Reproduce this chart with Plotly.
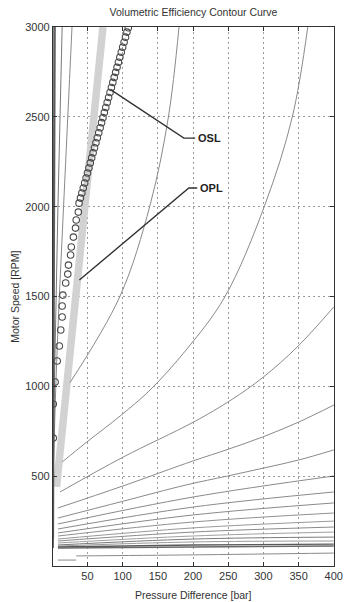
import plotly.graph_objects as go

# ---------------- data ----------------
TITLE = "Volumetric Efficiency Contour Curve"
X_TITLE = "Pressure Difference [bar]"
Y_TITLE = "Motor Speed [RPM]"
X_TICKS = [50, 100, 150, 200, 250, 300, 350, 400]
Y_TICKS = [500, 1000, 1500, 2000, 2500, 3000]

# steep contour curves (pressure [bar], speed [rpm])
C0_P = [25, 96, 139, 165, 180]
C0_N = [1020, 1500, 2010, 2500, 3000]
C1_P = [14, 49, 98, 139, 190, 245, 302, 341, 363]
C1_N = [579, 690, 840, 980, 1202, 1497, 2009, 2499, 3000]
C2_P = [11, 100, 201, 254, 300, 348, 400]
C2_N = [412, 605, 802, 924, 1052, 1219, 1442]
C3_P = [8, 100, 200, 250, 300, 350, 400]
C3_N = [323, 445, 585, 650, 720, 801, 896]
C4_P = [8, 100, 190, 249, 300, 350, 400]
C4_N = [267, 360, 451, 501, 545, 590, 646]

# near-vertical contours close to zero pressure
A_P = [2, 5, 10, 16, 22, 28]
A_N = [600, 1000, 1500, 2000, 2500, 3000]
B_P = [1.5, 3, 5.5, 8, 11, 14]
B_N = [600, 1000, 1500, 2000, 2500, 3000]
E1_P = [1.5, 2.5, 4]
E1_N = [150, 1500, 3000]
E2_P = [1.2, 1.8, 2.5]
E2_N = [100, 1500, 3000]

# low-speed contour family, read at common pressures
LOW_P = [8, 200, 400]
L05_N = [234, 384, 501]
L06_N = [206, 328, 412]
L07_N = [184, 284, 351]
L08_N = [167, 245, 295]
L09_N = [150, 212, 250]
L10_N = [139, 189, 217]
L11_N = [128, 167, 189]
L12_N = [117, 150, 161]
L13_N = [111, 134, 139]
L14_N = [106, 117, 122]
L15_N = [100, 106, 111]
B1_P = [34, 200, 400]
B1_N = [56, 62, 72]
B2_P = [8, 34]
B2_N = [33, 33]

# OPL (grey band) and OSL (circles)
OPL_P = [6, 72]
OPL_N = [440, 3000]
OSL_P = [1.4, 1.4, 4, 7, 10, 12, 14, 14, 15, 19, 22, 23, 26, 27, 30, 33, 34, 37, 38,
         40, 42, 44, 46, 48, 50, 52, 54, 56, 58, 60, 62, 64, 66, 68, 70, 72, 74, 76,
         78, 80, 82, 84, 86, 88, 90, 92, 94, 96, 98, 100, 102, 104, 106, 108]
OSL_N = [712, 902, 1024, 1141, 1225, 1314, 1386, 1447, 1508, 1575, 1625, 1675, 1731,
         1776, 1831, 1881, 1926, 1970, 2020,
         2048, 2076, 2104, 2132, 2160, 2188, 2216, 2244, 2272, 2300, 2328, 2356, 2384,
         2412, 2440, 2468, 2496, 2524, 2552, 2580, 2608, 2636, 2664, 2692, 2720, 2748,
         2776, 2804, 2832, 2860, 2888, 2916, 2944, 2972, 2996]

# annotations: leader polyline points and label anchors
OSL_LEAD_P = [84, 187, 203]
OSL_LEAD_N = [2649, 2382, 2382]
OPL_LEAD_P = [38.5, 194, 206]
OPL_LEAD_N = [1592, 2104, 2104]
LABELS = ["OSL", "OPL"]
LABEL_P = [204, 207]
LABEL_N = [2382, 2104]

# ---------------- figure ----------------
fig = go.Figure()

def line(px, ny, color="#8a8a8a", width=1.0, shape="spline"):
    fig.add_trace(go.Scatter(x=px, y=ny, mode="lines", line=dict(color=color, width=width, shape=shape),
                             hoverinfo="skip"))

# grey OPL band first
line(OPL_P, OPL_N, color="#d2d2d2", width=7.5, shape="linear")

for p, n in [(C0_P, C0_N), (C1_P, C1_N), (C2_P, C2_N), (C3_P, C3_N), (C4_P, C4_N)]:
    line(p, n)
line(A_P, A_N, color="#8a8a8a")
line(B_P, B_N, color="#777777")
line(E1_P, E1_N, color="#666666", width=1.5)
line(E2_P, E2_N, color="#555555", width=1.5)

low = [L05_N, L06_N, L07_N, L08_N, L09_N, L10_N, L11_N, L12_N, L13_N, L14_N, L15_N]
cols = ["#8a8a8a", "#8a8a8a", "#8a8a8a", "#909090", "#999999", "#8a8a8a", "#a0a0a0",
        "#7a7a7a", "#9a9a9a", "#5a5a5a", "#6a6a6a"]
wids = [1, 1, 1, 1, 1, 1, 1, 1, 1, 1.4, 1.4]
for n, c, w in zip(low, cols, wids):
    line(LOW_P, n, color=c, width=w)
line(B1_P, B1_N, color="#8a8a8a")
line(B2_P, B2_N, color="#8a8a8a")

# OSL circles
fig.add_trace(go.Scatter(x=OSL_P, y=OSL_N, mode="markers",
                         marker=dict(symbol="circle-open", size=6.5, color="#4a4a4a", line=dict(width=1.1)),
                         hoverinfo="skip"))

# leaders
line(OSL_LEAD_P, OSL_LEAD_N, color="#333333", width=1.4, shape="linear")
line(OPL_LEAD_P, OPL_LEAD_N, color="#333333", width=1.4, shape="linear")
for t, p, n in zip(LABELS, LABEL_P, LABEL_N):
    fig.add_annotation(x=p, y=n, text=t, showarrow=False, xanchor="left", yanchor="middle",
                       font=dict(family="Liberation Sans", size=11, color="#222222", weight="bold"))

axis_common = dict(showline=True, linecolor="#333333", linewidth=1.2, mirror="ticks",
                   ticks="inside", ticklen=4, tickcolor="#333333",
                   showgrid=True, gridcolor="#9a9a9a", griddash="2px,3px", gridwidth=1,
                   zeroline=False,
                   tickfont=dict(family="Liberation Sans", size=11, color="#333333"))
fig.update_xaxes(range=[1, 400.3], tickvals=X_TICKS, **axis_common)
fig.update_yaxes(range=[0, 3000.5], tickvals=Y_TICKS, **axis_common)

fig.update_layout(
    width=352, height=602,
    margin=dict(l=53, r=9, t=27, b=36),
    paper_bgcolor="white", plot_bgcolor="white",
    showlegend=False,
    title=dict(text=TITLE, x=0.5, xref="paper", y=1 - 12 / 602, yref="container",
               xanchor="center", yanchor="middle",
               font=dict(family="Liberation Sans", size=10.5, color="#333333")),
)
fig.add_annotation(text=X_TITLE, xref="paper", yref="paper", x=0.5, y=-29 / 539,
                   showarrow=False, xanchor="center", yanchor="middle",
                   font=dict(family="Liberation Sans", size=10.5, color="#333333"))
fig.add_annotation(text=Y_TITLE, xref="paper", yref="paper", x=-40 / 290, y=0.5, textangle=-90,
                   showarrow=False, xanchor="center", yanchor="middle",
                   font=dict(family="Liberation Sans", size=10.5, color="#333333"))

fig.write_html("out.html", config={"displayModeBar": False},
               post_script="document.body.style.margin='0';document.body.style.overflow='hidden';")
